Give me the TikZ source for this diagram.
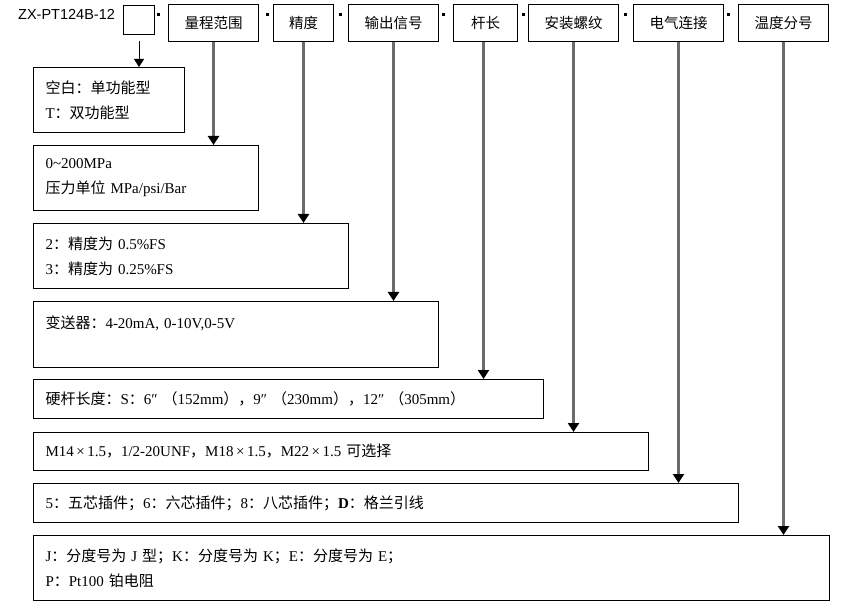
\documentclass[tikz,border=0pt]{standalone}
\usepackage{fontspec}
\setmainfont{Liberation Serif}
\newfontfamily\cjk{Noto Sans CJK SC}
\newfontfamily\arialf{Liberation Sans}
\usetikzlibrary{arrows.meta}
\newcommand\zh[1]{{\cjk #1}}
\begin{document}
\begin{tikzpicture}[x=1pt,y=-1pt,
  hdr/.style={draw, line width=1pt, minimum height=37pt, inner sep=0pt, anchor=north west, font=\fontsize{14.5}{16}\cjk},
  box/.style={draw, line width=1pt, anchor=north west, inner xsep=12pt, inner ysep=0pt, align=left, font=\fontsize{15}{25}\selectfont},
  feed/.style={draw=black!58, line width=2.5pt, -{Triangle[width=11pt,length=9pt,color=black]}},
  sepmark/.style={fill=black}]
\useasboundingbox (0,0) rectangle (856,609);
% title and header row
\node[font=\fontsize{14.5}{16}\arialf, anchor=west, inner sep=0pt] (code) at (18,14.5) {ZX-PT124B-12};
\node[draw, line width=1pt, minimum width=31pt, minimum height=29pt, inner sep=0pt, anchor=north west] (blank) at (123,5) {};
\node[hdr, minimum width=90pt] (range) at (168,4) {量程范围};
\node[hdr, minimum width=60pt] (acc) at (273,4) {精度};
\node[hdr, minimum width=90pt] (out) at (348,4) {输出信号};
\node[hdr, minimum width=64pt] (rod) at (453,4) {杆长};
\node[hdr, minimum width=90pt] (thread) at (528,4) {安装螺纹};
\node[hdr, minimum width=90pt] (elec) at (633,4) {电气连接};
\node[hdr, minimum width=90pt] (temp) at (738,4) {温度分号};
\foreach \x in {157,266,339,442,522,624,727}
  \fill[sepmark] (\x,13.5) rectangle ++(3,2.5);
% description boxes
\node[box, minimum width=151pt, minimum height=65pt, text width=127pt] (bA) at (33,67)
  {\zh{空白：单功能型}\\T\zh{：双功能型}};
\node[box, minimum width=225pt, minimum height=65pt, text width=201pt] (bB) at (33,145)
  {0\textasciitilde 200MPa\\\zh{压力单位} MPa/psi/Bar};
\node[box, minimum width=315pt, minimum height=65pt, text width=291pt] (bC) at (33,223)
  {2\zh{：精度为} 0.5\%FS\\3\zh{：精度为} 0.25\%FS};
\node[box, minimum width=405pt, minimum height=66pt, text width=381pt] (bD) at (33,301)
  {\zh{变送器：}4-20mA, 0-10V,0-5V\\\mbox{}};
\node[box, minimum width=510pt, minimum height=39pt, text width=486pt] (bE) at (33,379)
  {\zh{硬杆长度：}S\zh{：}6″ \zh{（}152mm\zh{），}9″ \zh{（}230mm\zh{），}12″ \zh{（}305mm\zh{）}};
\node[box, minimum width=615pt, minimum height=38pt, text width=591pt] (bF) at (33,432)
  {M14\,×\,1.5\zh{，}1/2-20UNF\zh{，}M18\,×\,1.5\zh{，}M22\,×\,1.5 \zh{可选择}};
\node[box, minimum width=705pt, minimum height=39pt, text width=681pt] (bG) at (33,483)
  {5\zh{：五芯插件；}6\zh{：六芯插件；}8\zh{：八芯插件；}\textbf{D}\zh{：格兰引线}};
\node[box, minimum width=796pt, minimum height=65pt, text width=772pt] (bH) at (33,535)
  {J\zh{：分度号为} J \zh{型；}K\zh{：分度号为} K\zh{；}E\zh{：分度号为} E\zh{；}\\P\zh{：}Pt100 \zh{铂电阻}};
% connectors
\draw[line width=1pt, shorten <=6pt, -{Triangle[width=10pt,length=8pt]}] (blank.south) -- (blank.south |- bA.north);
\draw[feed] (range.south) -- (range.south |- bB.north);
\draw[feed] (acc.south) -- (acc.south |- bC.north);
\draw[feed] (out.south) -- (out.south |- bD.north);
\draw[feed] ([xshift=-2pt]rod.south) -- ([xshift=-2pt]rod.south |- bE.north);
\draw[feed] (thread.south) -- (thread.south |- bF.north);
\draw[feed] (elec.south) -- (elec.south |- bG.north);
\draw[feed] (temp.south) -- (temp.south |- bH.north);
\end{tikzpicture}
\end{document}
